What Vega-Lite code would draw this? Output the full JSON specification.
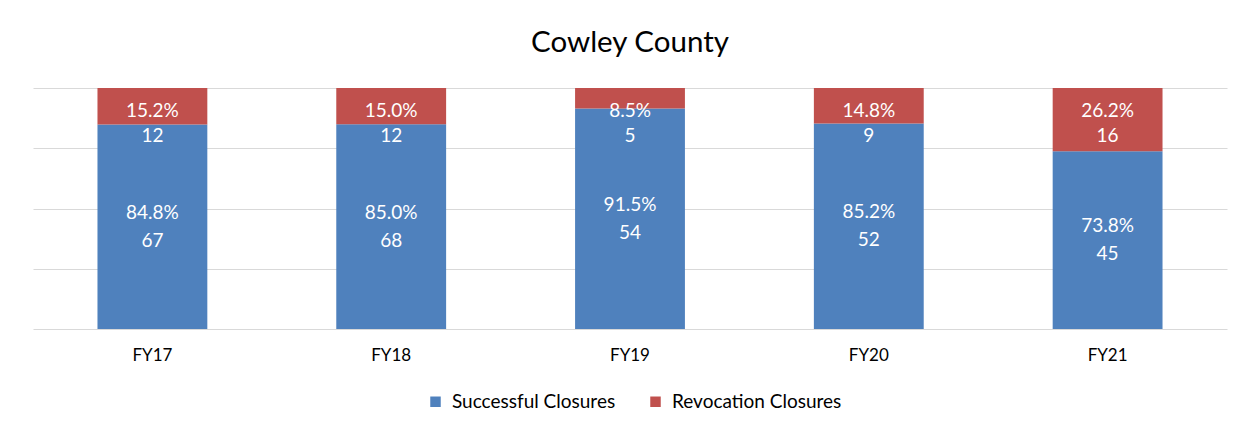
{
  "$schema": "https://vega.github.io/schema/vega-lite/v6.json",
  "width": 1194,
  "height": 241,
  "autosize": {"type": "none"},
  "padding": {"left": 33, "top": 88, "right": 24, "bottom": 103},
  "background": "white",
  "config": {"view": {"stroke": null}, "font": "Lato"},
  "title": {"text": "Cowley County", "fontSize": 29.5, "fontWeight": "normal", "color": "#000000", "anchor": "middle", "offset": 30, "font": "Lato"},
  "data": {"values": [
    {"year": "FY17", "type": "Successful Closures", "count": 67, "pct": 0.848},
    {"year": "FY17", "type": "Revocation Closures", "count": 12, "pct": 0.152},
    {"year": "FY18", "type": "Successful Closures", "count": 68, "pct": 0.850},
    {"year": "FY18", "type": "Revocation Closures", "count": 12, "pct": 0.150},
    {"year": "FY19", "type": "Successful Closures", "count": 54, "pct": 0.915},
    {"year": "FY19", "type": "Revocation Closures", "count": 5, "pct": 0.085},
    {"year": "FY20", "type": "Successful Closures", "count": 52, "pct": 0.852},
    {"year": "FY20", "type": "Revocation Closures", "count": 9, "pct": 0.148},
    {"year": "FY21", "type": "Successful Closures", "count": 45, "pct": 0.738},
    {"year": "FY21", "type": "Revocation Closures", "count": 16, "pct": 0.262}
  ]},
  "encoding": {
    "x": {"field": "year", "type": "nominal", "scale": {"paddingInner": 0.54, "paddingOuter": 0.27},
      "axis": {"title": null, "labelAngle": 0, "ticks": false, "domain": false, "labelFontSize": 17, "labelColor": "#000000", "labelPadding": 18, "grid": false}}
  },
  "layer": [
    {
      "mark": {"type": "bar"},
      "encoding": {
        "y": {"field": "count", "type": "quantitative", "stack": "normalize", "scale": {"domain": [0, 1]},
          "axis": {"title": null, "labels": false, "ticks": false, "domain": false, "grid": true, "gridColor": "#d9d9d9", "values": [0, 0.25, 0.5, 0.75, 1]}},
        "color": {"field": "type", "type": "nominal", "sort": ["Successful Closures", "Revocation Closures"],
          "scale": {"domain": ["Successful Closures", "Revocation Closures"], "range": ["#4F81BD", "#C0504D"]},
          "legend": {"orient": "none", "legendX": 393, "legendY": 304, "padding": 0, "direction": "horizontal", "title": null, "symbolType": "square", "symbolSize": 110, "symbolStrokeWidth": 0, "labelFontSize": 19, "labelLimit": 400, "labelColor": "#000000", "columnPadding": 30, "labelOffset": 7}}
      }
    },
    {
      "transform": [{"filter": "datum.type == 'Successful Closures'"}],
      "mark": {"type": "text", "color": "white", "fontSize": 19, "dy": -14, "baseline": "middle"},
      "encoding": {
        "y": {"field": "pct", "type": "quantitative", "scale": {"domain": [0, 2]}, "axis": null},
        "text": {"field": "pct", "type": "quantitative", "format": ".1%"}
      }
    },
    {
      "transform": [{"filter": "datum.type == 'Successful Closures'"}],
      "mark": {"type": "text", "color": "white", "fontSize": 19, "dy": 14, "baseline": "middle"},
      "encoding": {
        "y": {"field": "pct", "type": "quantitative", "scale": {"domain": [0, 2]}, "axis": null},
        "text": {"field": "count", "type": "quantitative"}
      }
    },
    {
      "transform": [{"filter": "datum.type == 'Revocation Closures'"}],
      "mark": {"type": "text", "color": "white", "fontSize": 19, "dy": -12, "baseline": "middle"},
      "encoding": {
        "y": {"datum": 0.855, "type": "quantitative", "scale": {"domain": [0, 1]}, "axis": null},
        "text": {"field": "pct", "type": "quantitative", "format": ".1%"}
      }
    },
    {
      "transform": [{"filter": "datum.type == 'Revocation Closures'"}],
      "mark": {"type": "text", "color": "white", "fontSize": 19, "dy": 13, "baseline": "middle"},
      "encoding": {
        "y": {"datum": 0.855, "type": "quantitative", "scale": {"domain": [0, 1]}, "axis": null},
        "text": {"field": "count", "type": "quantitative"}
      }
    }
  ],
  "resolve": {"scale": {"y": "independent"}}
}
